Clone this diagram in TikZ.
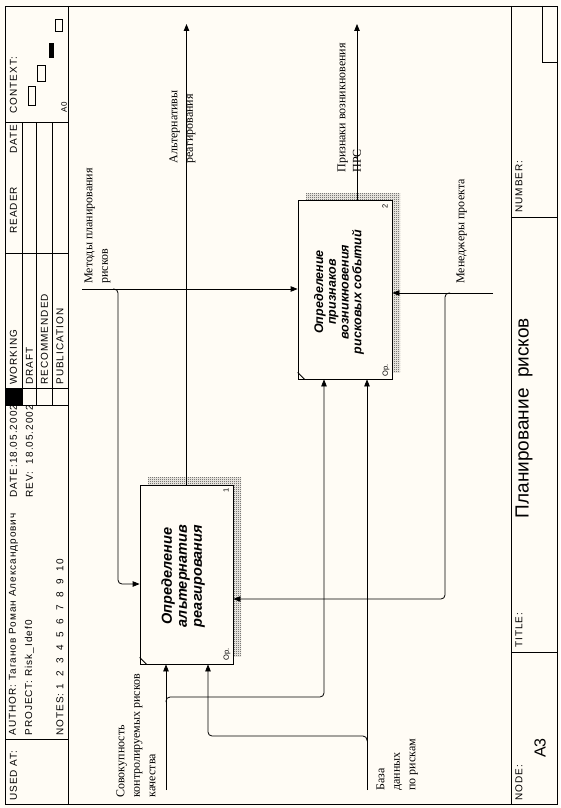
\documentclass[tikz,border=0pt]{standalone}
\usepackage{fontspec}
\setmainfont{Liberation Serif}
\newfontfamily\hdr[LetterSpace=10]{Liberation Sans}
\newfontfamily\bxf{Liberation Sans}
\usetikzlibrary{arrows.meta,patterns,patterns.meta}
\definecolor{bg}{RGB}{255,252,245}
\tikzdeclarepattern{name=chk,type=uncolored,
  bounding box={(0pt,0pt) and (2pt,2pt)},tile size={(2pt,2pt)},
  code={\pgfpathrectangle{\pgfpointorigin}{\pgfpoint{1pt}{1pt}}%
        \pgfpathrectangle{\pgfpoint{1pt}{1pt}}{\pgfpoint{1pt}{1pt}}%
        \pgfusepath{fill}}}
\begin{document}
\begin{tikzpicture}[x=1pt,y=-1pt,line width=0.8pt,
  arr/.style={-{Triangle[length=7pt,width=5.5pt]}},
  con/.style={rounded corners=4pt},
  lbl/.style={rotate=90,anchor=north west,align=left,inner sep=0pt,font=\fontsize{12}{15.5}\selectfont},
  hd/.style={rotate=90,anchor=west,inner sep=0pt,font=\hdr\fontsize{10}{11}\selectfont},
  fnbox/.style={draw,fill=bg,minimum width=#1,inner sep=0pt},
  fntext/.style={rotate=90,align=center,inner sep=0pt,font=\bxf\bfseries\itshape\fontsize{14.5}{15}\selectfont},
  small/.style={rotate=90,inner sep=0pt,font=\bxf\fontsize{7.5}{8}\selectfont},
  shad/.style={pattern=chk,pattern color=black!80}]
\fill[bg] (0,0) rectangle (560,808);
\useasboundingbox (0,0) rectangle (560,808);

% frame
\draw (5,6) rectangle (557,804);
\draw (68,6) -- (68,804);
\draw (511,6) -- (511,804);
\foreach \yy in {122,253,388,405,739} \draw (5,\yy) -- (68,\yy);
\foreach \xx in {22.5,36.5,52.5} \draw (\xx,122) -- (\xx,405);
\fill (5,388) rectangle (22.5,405);
\draw (511,217) -- (557,217);
\draw (511,652) -- (557,652);
\draw (542,6) -- (542,62) -- (557,62);
% context
\draw (28,86) rectangle (35,105);
\draw (37,65) rectangle (45,81);
\fill (49,43) rectangle (54,58);
\draw (55,19) rectangle (62,31);

% header texts
\node[hd] (tctx) at (13.5,114) {CONTEXT:};
\node[hd,anchor=east] (tdate) at (13.5,124) {DATE};
\node[hd] (trdr) at (13.5,234) {READER};
\node[hd] (twrk) at (13.5,385) {WORKING};
\node[hd] (tdrf) at (29.5,385) {DRAFT};
\node[hd] (trec) at (44.5,385) {RECOMMENDED};
\node[hd] (tpub) at (60,385) {PUBLICATION};
\node[hd,font=\hdr\fontsize{8}{8}\selectfont] (ta0) at (64,113) {A0};
\node[hd] (tdt) at (13.5,498) {DATE:18.05.2002};
\node[hd] (trev) at (29.5,498) {REV:\ \ 18.05.2002};
\node[hd] (taut) at (13.5,736) {AUTHOR:\ Таганов Роман Александрович};
\node[hd] (tprj) at (29.5,736) {PROJECT:\ Risk\_Idef0};
\node[hd] (tnts) at (60,736) {NOTES:\ 1\ \ 2\ \ 3\ \ 4\ \ 5\ \ 6\ \ 7\ \ 8\ \ 9\ \ 10};
\node[hd] (tused) at (13.5,801) {USED AT:};
\node[hd] (tnum) at (519,213) {NUMBER:};
\node[hd] (ttit) at (519,648) {TITLE:};
\node[hd] (tnode) at (519,801) {NODE:};
\node[rotate=90,inner sep=0pt,font=\bxf\fontsize{16}{17}\selectfont] (ta3) at (540,748) {A3};
\node[rotate=90,inner sep=0pt,font=\bxf\fontsize{19}{20}\selectfont] (ttl) at (524,418) {Планирование\ \ рисков};

% shadows
\fill[shad] (148,477) rectangle (241,656);
\fill[shad] (306,193) rectangle (400,372);

% boxes
\node[fnbox=93pt,minimum height=179pt] (b1) at (186.5,574.5) {};
\node[fnbox=94pt,minimum height=179pt] (b2) at (345,289.5) {};
\node[fntext] (b1t) at (183,576) {Определение\\альтернатив\\реагирования};
\node[fntext,font=\bxf\bfseries\itshape\fontsize{12.5}{12.8}\selectfont] (b2t) at (339,292) {Определение\\признаков\\возникновения\\рисковых событий};
\draw (b1.south west) ++(0,-7) -- ++(7,7);
\draw (b2.south west) ++(0,-7) -- ++(7,7);
\node[small] (n1) at (226,490) {1};
\node[small] (o1p) at (227,654) {Ор.};
\node[small] (n2) at (385,206) {2};
\node[small] (o2p) at (386,370) {Ор.};

% coordinates
\coordinate (k0) at (82,289);
\coordinate (kj) at (118,289);
\coordinate (kc) at (118,584);
\coordinate (oA) at (186.5,24);
\coordinate (oB) at (357,24);
\coordinate (m0) at (493,293);
\coordinate (mj) at (445,293);
\coordinate (mc) at (445,599);
\coordinate (s0) at (166,790);
\coordinate (sj) at (166,697);
\coordinate (sc) at (324,697);
\coordinate (d0) at (367,790);
\coordinate (dj) at (367,736);
\coordinate (dc) at (208,736);

% arrows
\draw[arr] (k0) -- (k0 -| b2.west);
\draw[arr,con] ([xshift=-5pt]kj) -- (kj) -- (kc) -- (kc -| b1.west);
\draw[arr] (b1.north) -- (oA);
\draw[arr] (oB |- b2.north) -- (oB);
\draw[arr] (m0) -- (m0 -| b2.east);
\draw[arr,con] ([xshift=5pt]mj) -- (mj) -- (mc) -- (mc -| b1.east);
\draw[arr] (s0) -- (s0 |- b1.south);
\draw[arr,con] ([yshift=-5pt]sj) -- (sj) -- (sc) -- (sc |- b2.south);
\draw[arr] (d0) -- (d0 |- b2.south);
\draw[arr,con] ([yshift=-5pt]dj) -- (dj) -- (dc) -- (dc |- b1.south);

% labels
\node[lbl] (lk) at (84,284) {Методы планирования\\рисков};
\node[lbl] (lo1) at (169,164) {Альтернативы\\реагирования};
\node[lbl] (lo2) at (337,173) {Признаки возникновения\\ПРС};
\node[lbl] (lm) at (456,284) {Менеджеры проекта};
\node[lbl] (ls) at (116,798) {Совокупность\\контролируемых рисков\\качества};
\node[lbl] (ld) at (376,791) {База\\данных\\по рискам};
\end{tikzpicture}
\end{document}
